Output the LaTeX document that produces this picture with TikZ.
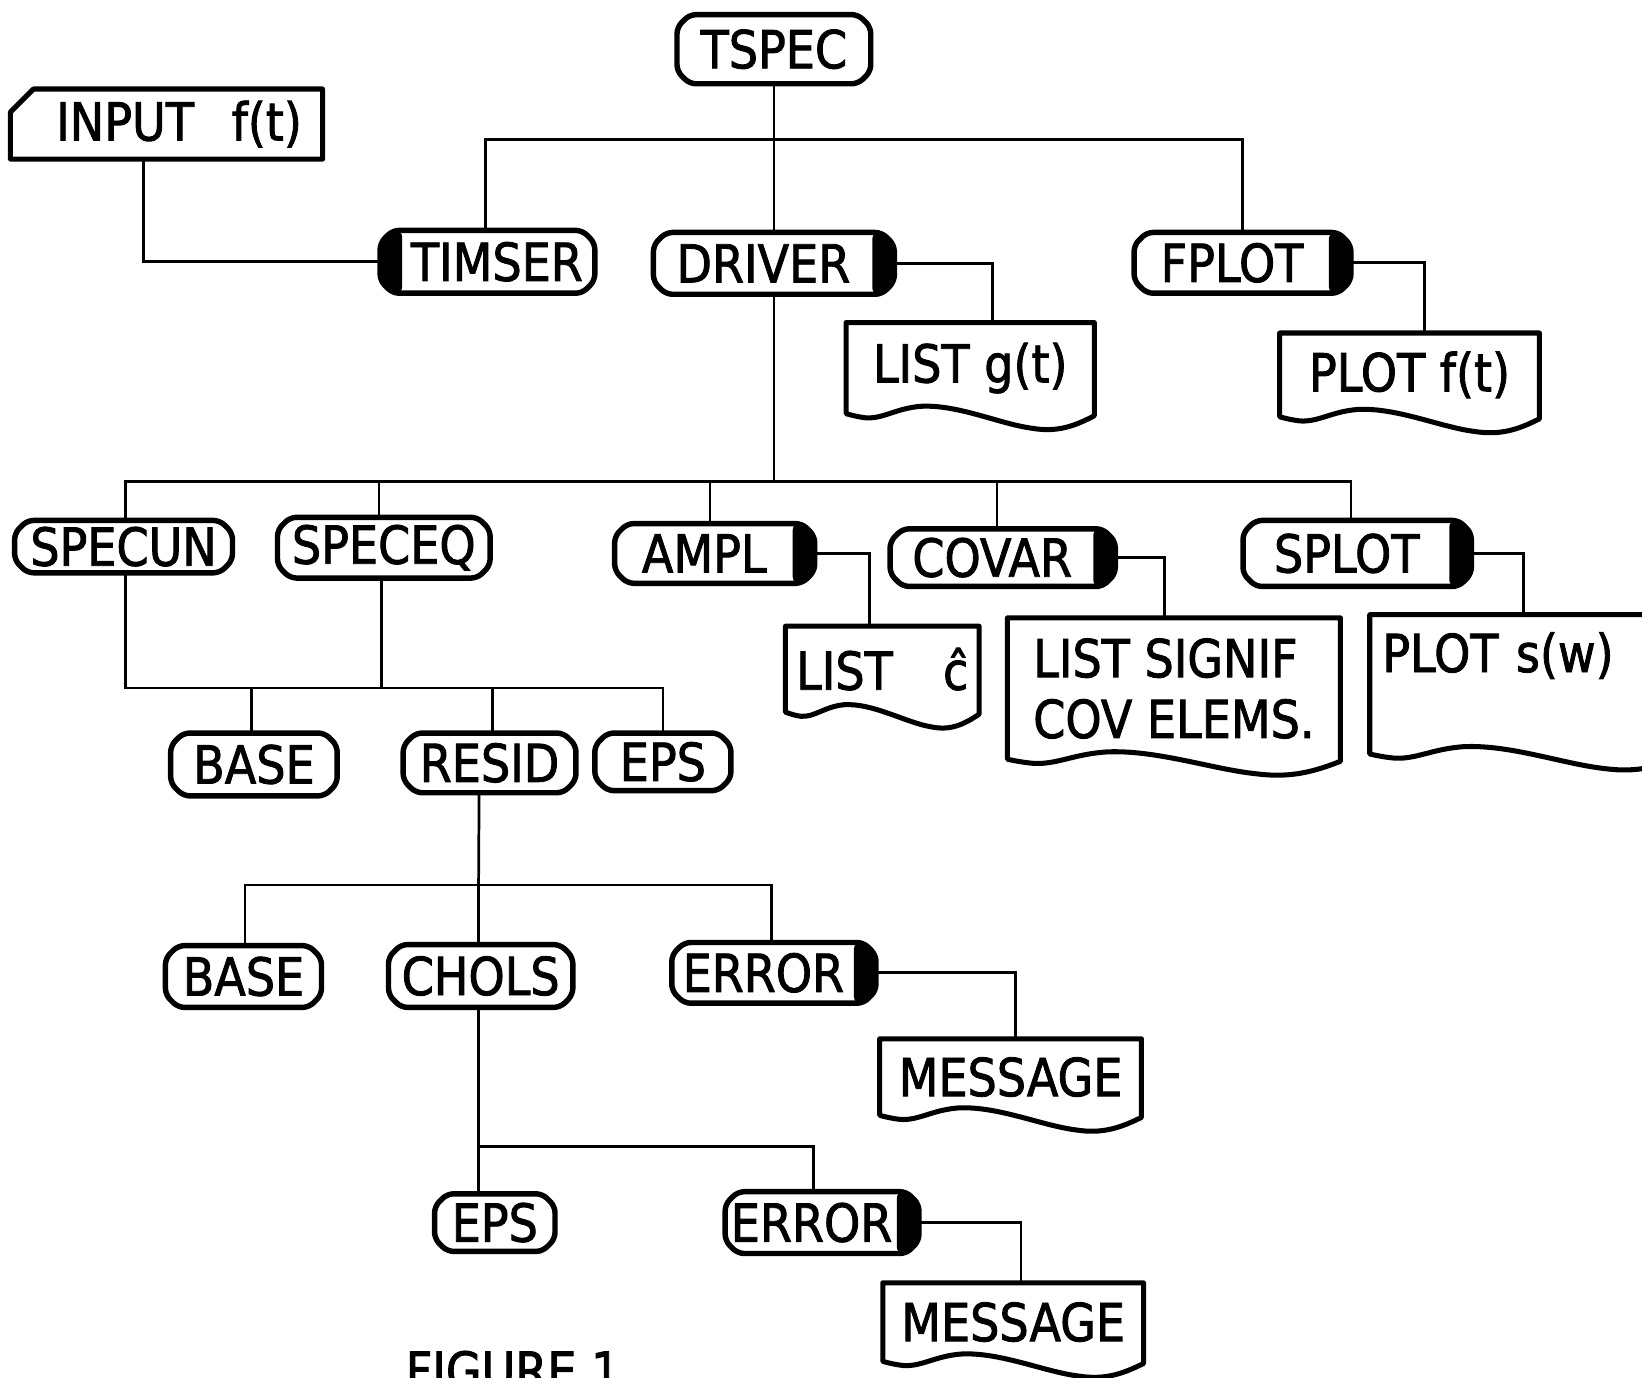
\documentclass[tikz,border=0pt]{standalone}
\usepackage{fontspec}
\setmainfont{DejaVu Sans}[FakeStretch=0.88,FakeBold=1.6]
\usetikzlibrary{calc}
\tikzset{
  lbl/.style={font=\fontsize{25}{29}\selectfont, inner sep=0pt, outer sep=0pt},
  sz/.style 2 args={minimum width={#1*0.5pt}, minimum height={#2*0.5pt}},
  mod/.style={lbl, rectangle},
  capr/.style={execute at end node={\hspace{10pt}}},
  capl/.style={execute at begin node={\hspace{9pt}}},
  docn/.style={lbl, rectangle},
  conn/.style={line width=1.3pt},
  boxline/.style={line width=2.6pt, line join=round, rounded corners=3pt},
  docline/.style={line width=2.4pt, line join=round},
}
\newcommand\modshape[1]{%
  \draw[boxline] ($(#1.south west)+(6pt,0)$) -- ($(#1.south east)+(-6pt,0)$) -- ($(#1.south east)+(0,6pt)$) -- ($(#1.north east)+(0,-6pt)$) -- ($(#1.north east)+(-6pt,0)$) -- ($(#1.north west)+(6pt,0)$) -- ($(#1.north west)+(0,-6pt)$) -- ($(#1.south west)+(0,6pt)$) -- cycle;}
\newcommand\capR[1]{%
  \fill[boxline] ($(#1.south east)+(-10.5pt,0)$) -- ($(#1.south east)+(-6pt,0)$) -- ($(#1.south east)+(0,6pt)$) -- ($(#1.north east)+(0,-6pt)$) -- ($(#1.north east)+(-6pt,0)$) -- ($(#1.north east)+(-10.5pt,0)$) -- cycle;}
\newcommand\capL[1]{%
  \fill[boxline] ($(#1.south west)+(10.5pt,0)$) -- ($(#1.south west)+(6pt,0)$) -- ($(#1.south west)+(0,6pt)$) -- ($(#1.north west)+(0,-6pt)$) -- ($(#1.north west)+(6pt,0)$) -- ($(#1.north west)+(10.5pt,0)$) -- cycle;}
\newcommand\docshape[1]{%
  \draw[docline] (#1.north west) -- (#1.north east) -- ($(#1.south east)+(0,-1pt)$)
   .. controls ($(#1.south west)!0.92!(#1.south east)+(0,-6pt)$) and ($(#1.south west)!0.85!(#1.south east)+(0,-9pt)$)
   .. ($(#1.south west)!0.75!(#1.south east)+(0,-7pt)$)
   .. controls ($(#1.south west)!0.62!(#1.south east)+(0,-5pt)$) and ($(#1.south west)!0.45!(#1.south east)+(0,4.5pt)$)
   .. ($(#1.south west)!0.3!(#1.south east)+(0,3.5pt)$)
   .. controls ($(#1.south west)!0.2!(#1.south east)+(0,2.5pt)$) and ($(#1.south west)!0.15!(#1.south east)+(0,-2.5pt)$)
   .. ($(#1.south west)!0.08!(#1.south east)+(0,-2pt)$)
   .. controls ($(#1.south west)!0.04!(#1.south east)+(0,-1.5pt)$) and (#1.south west) .. (#1.south west) -- cycle;}
\begin{document}
\begin{tikzpicture}[x=0.5pt,y=-0.5pt]
\useasboundingbox (0,0) rectangle (1568,1315);
\fill[white] (0,0) rectangle (1568,1315);
\clip (0,0) rectangle (1568,1315);

% nodes
\node[mod, sz={185}{66}] (tspec) at (739,47) {TSPEC};
\node[lbl, sz={298}{67}] (input) at (159,118.5) {\hspace{12pt}INPUT\hspace{18pt}f(t)};
\node[mod, capl, sz={205}{60}] (timser) at (465.5,250) {TIMSER};
\node[mod, capr, sz={230}{59}] (driver) at (739,251.5) {DRIVER};
\node[mod, capr, sz={207}{58}] (fplot) at (1186.5,251) {FPLOT};
\node[docn, sz={237}{87}] (listg) at (926.5,351.5) {LIST g(t)};
\node[docn, sz={248}{80}] (plotf) at (1346,358) {PLOT f(t)};
\node[mod, sz={208}{50}] (specun) at (118,522) {SPECUN};
\node[mod, sz={203}{58}] (speceq) at (366.5,523) {SPECEQ};
\node[mod, capr, sz={191}{57}] (ampl) at (682.5,528.5) {AMPL};
\node[mod, capr, sz={215}{55}] (covar) at (957.5,532.5) {COVAR};
\node[mod, capr, sz={218}{63}] (splot) at (1296,528.5) {SPLOT\hspace{12pt}};
\node[docn, sz={185}{82}] (listc) at (842.5,639) {LIST\hspace{24pt}ĉ};
\node[docn, sz={318}{135}, align=left] (listsig) at (1121,657.5) {LIST SIGNIF\\COV ELEMS.};
\node[docn, anchor=west, inner xsep=6pt, text width=138pt, minimum height=66.5pt, align=left] (plots) at (1308,653.5) {PLOT s(w)\\[-7pt]\strut};
\node[mod, sz={159}{60}] (base) at (242.5,730) {BASE};
\node[mod, sz={165}{57}] (resid) at (467.5,728.5) {RESID};
\node[mod, sz={130}{55}] (eps) at (633,727.5) {EPS};
\node[mod, sz={149}{59}] (base2) at (232.5,932.5) {BASE};
\node[mod, sz={176}{60}] (chols) at (459,932) {CHOLS};
\node[mod, capr, sz={195}{58}] (error) at (739,929) {ERROR};
\node[docn, sz={250}{73}] (msg) at (965,1028.5) {MESSAGE};
\node[mod, sz={115}{55}] (eps2) at (472.5,1167.5) {EPS};
\node[mod, capr, sz={185}{59}] (error2) at (785,1167.5) {ERROR};
\node[docn, sz={249}{75}] (msg2) at (967.5,1262.5) {MESSAGE};
\node[lbl, anchor=north] (fig) at (490,1290) {FIGURE 1};

% shapes
\foreach \n in {tspec,timser,driver,fplot,specun,speceq,ampl,covar,splot,base,resid,eps,base2,chols,error,eps2,error2}{\modshape{\n}}
\foreach \n in {driver,fplot,ampl,covar,splot,error,error2}{\capR{\n}}
\capL{timser}
\foreach \n in {listg,plotf,listc,listsig,plots,msg,msg2}{\docshape{\n}}
\draw[docline] (input.south west) -- (input.south east) -- (input.north east) -- ($(input.north west)+(11pt,0)$) -- ($(input.north west)+(0,-11pt)$) -- cycle;

% connectors
\coordinate (b1) at (739,133);
\coordinate (b2) at (739,460);
\coordinate (b3) at (364,657);
\coordinate (b4) at (457,845);
\coordinate (b5) at (457,1095);

\draw[conn] (tspec.south) -- (driver.north);
\draw[conn] ([xshift=-1pt]timser.north) |- (b1) -| (fplot.north);
\draw[conn] ([xshift=-11pt]input.south) |- (timser.west);
\draw[conn] (driver.east) -| ([xshift=10.75pt]listg.north);
\draw[conn] (fplot.east) -| ([xshift=7pt]plotf.north);
\draw[conn] (driver.south) -- (b2);
\draw[conn] ([xshift=1pt]specun.north) |- (b2) -| ([xshift=-3pt]splot.north);
\draw[conn] ([xshift=-2.25pt]speceq.north) -- ([xshift=-2.25pt]speceq.north |- b2);
\draw[conn] ([xshift=-2.25pt]ampl.north) -- ([xshift=-2.25pt]ampl.north |- b2);
\draw[conn] ([xshift=-2.75pt]covar.north) -- ([xshift=-2.75pt]covar.north |- b2);
\draw[conn] (ampl.east) -| ([xshift=-6.25pt]listc.north);
\draw[conn] (covar.east) -| ([xshift=-4.5pt]listsig.north);
\draw[conn] (splot.east) -| ([xshift=-1.5pt]plots.north);
\draw[conn] ([xshift=1pt]specun.south) |- (b3) -| (eps.north);
\draw[conn] ([xshift=-1.25pt]speceq.south) -- (b3);
\draw[conn] ([xshift=-1.25pt]base.north) -- ([xshift=-1.25pt]base.north |- b3);
\draw[conn] ([xshift=1.25pt]resid.north) -- ([xshift=1.25pt]resid.north |- b3);
\draw[conn] ([xshift=-5pt]resid.south) -- (b4);
\draw[conn] ([xshift=0.75pt]base2.north) |- (b4) -| ([xshift=-1pt]error.north);
\draw[conn] ([xshift=-1pt]chols.north) -- (b4);
\draw[conn] ([xshift=-1pt]chols.south) -- (b5);
\draw[conn] (b5) -- (b5 |- eps2.north);
\draw[conn] (b5) -| ([xshift=-4pt]error2.north);
\draw[conn] (error.east) -| ([xshift=2.5pt]msg.north);
\draw[conn] (error2.east) -| ([xshift=3.75pt]msg2.north);
\end{tikzpicture}
\end{document}
